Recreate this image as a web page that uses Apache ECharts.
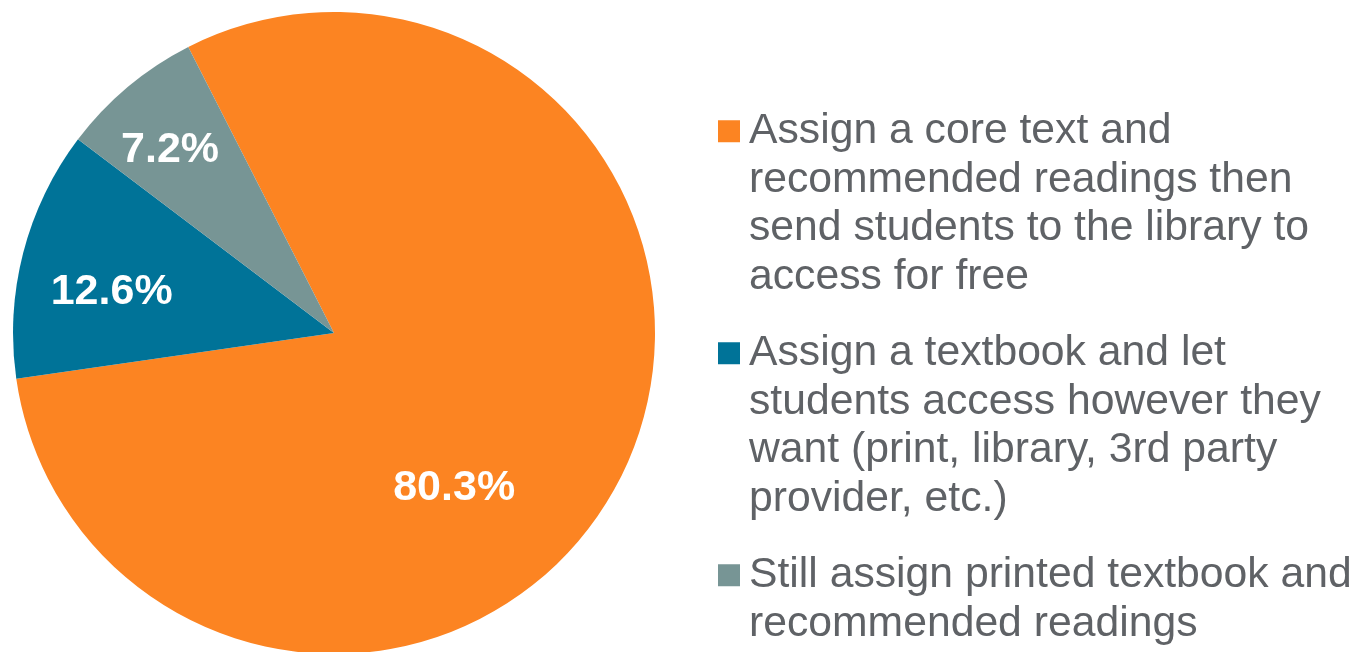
<!DOCTYPE html>
<html>
<head>
<meta charset="utf-8">
<script src="https://cdn.jsdelivr.net/npm/echarts@6/dist/echarts.min.js"></script>
<style>
html,body{margin:0;padding:0;background:#fff;}
#chart{width:1357px;height:652px;}
</style>
</head>
<body>
<div id="chart"></div>
<script>
const categories = [
  'Assign a core text and\nrecommended readings then\nsend students to the library to\naccess for free',
  'Assign a textbook and let\nstudents access however they\nwant (print, library, 3rd party\nprovider, etc.)',
  'Still assign printed textbook and\nrecommended readings'
];
const values = [80.3, 12.6, 7.2];
const colors = ['#FC8422', '#007398', '#779595'];

const FONT = '"Liberation Sans", Arial, Helvetica, sans-serif';
const labelShift = [[-25, 80], [-64, 0], [-59, -58]];

const rich = {
  gap: {width: 9, lineHeight: 48.5},
  pad: {width: 31, lineHeight: 48.5},
  t: {fontSize: 42.7, lineHeight: 48.5, color: '#5f6266', fontFamily: FONT}
};
colors.forEach((c, i) => {
  rich['s' + i] = {width: 22, height: 22, backgroundColor: c, lineHeight: 48.5};
});

const chart = echarts.init(document.getElementById('chart'));
chart.setOption({
  animation: false,
  color: colors,
  legend: {
    orient: 'vertical',
    left: 713,
    top: 107,
    icon: 'none',
    itemWidth: 0,
    itemGap: 28,
    padding: 0,
    selectedMode: false,
    data: categories,
    formatter: function (name) {
      const k = categories.indexOf(name);
      return name.split('\n').map((l, i) =>
        i === 0 ? '{s' + k + '| }{gap|}{t|' + l + '}' : '{pad|}{t|' + l + '}'
      ).join('\n');
    },
    textStyle: {rich: rich, fontSize: 42.7, lineHeight: 48.5, fontFamily: FONT}
  },
  series: [{
    type: 'pie',
    center: [334, 333],
    radius: [0, 321],
    startAngle: 117,
    clockwise: true,
    avoidLabelOverlap: false,
    silent: true,
    itemStyle: {borderWidth: 0},
    label: {
      show: true,
      position: 'inside',
      formatter: p => p.value.toFixed(1) + '%',
      color: '#ffffff',
      fontSize: 43,
      fontWeight: 'bold',
      fontFamily: FONT
    },
    labelLine: {show: false},
    labelLayout: function (p) {
      return {dx: labelShift[p.dataIndex][0], dy: labelShift[p.dataIndex][1]};
    },
    data: categories.map((n, i) => ({name: n, value: values[i]}))
  }]
});
</script>
</body>
</html>
